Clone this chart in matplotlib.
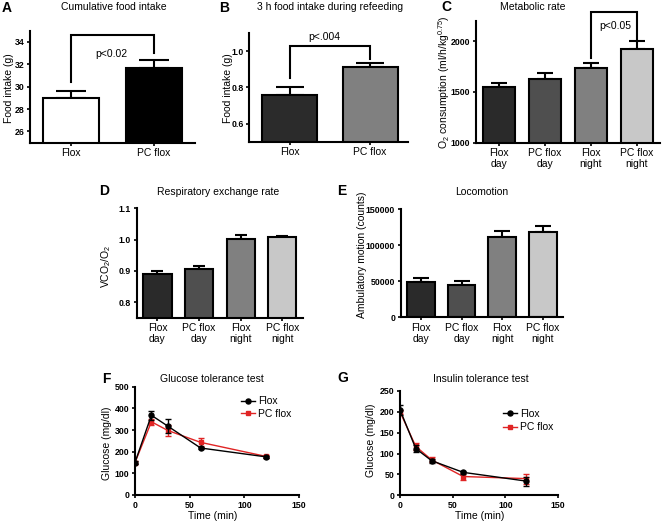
import matplotlib
matplotlib.use("Agg")
import matplotlib.pyplot as plt
import numpy as np

plt.rcParams['font.family'] = ['Liberation Sans', 'DejaVu Sans']
plt.rcParams['mathtext.fontset'] = 'custom'
plt.rcParams['mathtext.rm'] = 'Liberation Sans'
plt.rcParams['mathtext.it'] = 'Liberation Sans:italic'

# ---------------- data ----------------
a_cats = ["Flox", "PC flox"]
a_vals = [29.0, 31.7]
a_errs = [0.65, 0.7]

b_cats = ["Flox", "PC flox"]
b_vals = [0.758, 0.913]
b_errs = [0.045, 0.023]

cde_cats = ["Flox\nday", "PC flox\nday", "Flox\nnight", "PC flox\nnight"]
c_vals = [1548, 1626, 1733, 1925]
c_errs = [37, 64, 52, 75]
d_vals = [0.889, 0.906, 1.003, 1.007]
d_errs = [0.012, 0.008, 0.012, 0.004]
e_vals = [49500, 45500, 111000, 118000]
e_errs = [4500, 5000, 8500, 9000]

time_min = [0, 15, 30, 60, 120]
f_flox = [150, 368, 318, 217, 176]
f_flox_err = [8, 20, 33, 6, 5]
f_pc = [150, 338, 298, 243, 178]
f_pc_err = [8, 15, 25, 18, 6]

g_flox = [205, 112, 83, 55, 34]
g_flox_err = [12, 8, 5, 3, 11]
g_pc = [200, 117, 85, 45, 40]
g_pc_err = [5, 9, 6, 8, 12]

# ---------------- layout ----------------
W, H = 662, 523
fig = plt.figure(figsize=(W / 100, H / 100), dpi=100)

def add_ax(x0, y0, x1, y1):
    return fig.add_axes([x0 / W, 1 - y1 / H, (x1 - x0) / W, (y1 - y0) / H])

def ftext(x, y, s, **kw):
    fig.text(x / W, 1 - y / H, s, **kw)

LW = 1.5
TXT = 7.5
TICK = 6.3

def style(ax):
    for s in ['top', 'right']:
        ax.spines[s].set_visible(False)
    for s in ['left', 'bottom']:
        ax.spines[s].set_linewidth(LW)
    ax.tick_params(axis='both', direction='out', length=2.5, width=1.2, pad=1.5)
    ax.tick_params(axis='y', labelsize=TICK)
    for lab in ax.get_yticklabels():
        lab.set_fontweight('bold')

def bars(ax, vals, errs, colors, cats, capsize):
    x = np.arange(len(vals))
    ax.bar(x, vals, width=0.68, color=colors, edgecolor='black', linewidth=LW, zorder=2)
    ax.errorbar(x, vals, yerr=[np.zeros(len(errs)), errs], fmt='none', ecolor='black',
                elinewidth=LW, capsize=capsize, capthick=LW, zorder=1)
    ax.set_xlim(-0.5, len(vals) - 0.5)
    ax.set_xticks(x)
    ax.set_xticklabels(cats, fontsize=TXT, linespacing=1.1)
    ax.tick_params(axis='x', pad=3)

def bracket(ax, x0, x1, y0, y1, ytop):
    ax.plot([x0, x0, x1, x1], [y0, ytop, ytop, y1], color='black', lw=LW,
            clip_on=False, solid_joinstyle='miter', zorder=3)

# ---- A ----
axA = add_ax(30, 30.7, 195, 142.7)
bars(axA, a_vals, a_errs, ['white', 'black'], a_cats, 10.8)
axA.set_ylim(25, 35)
axA.set_yticks([26, 28, 30, 32, 34])
style(axA)
axA.set_xlim(-0.5, 1.5)
bracket(axA, 0, 1, 30.4, 33.05, 34.63)
ftext(111, 54, "p<0.02", fontsize=TXT, ha='center', va='center')
ftext(114, 7.5, "Cumulative food intake", fontsize=TXT, ha='center', va='center')
ftext(9, 88, "Food intake (g)", fontsize=TXT, rotation=90, ha='center', va='center')
ftext(7, 8, "A", fontsize=10, fontweight='bold', ha='center', va='center')

# ---- B ----
axB = add_ax(249.3, 33.3, 408, 141.7)
bars(axB, b_vals, b_errs, ['#2b2b2b', '#808080'], b_cats, 10)
axB.set_ylim(0.5, 1.1)
axB.set_yticks([0.6, 0.8, 1.0])
style(axB)
axB.set_xlim(-0.5, 1.47)
bracket(axB, 0, 1, 0.85, 0.96, 1.029)
ftext(324, 37.5, "p<.004", fontsize=TXT, ha='center', va='center')
ftext(330, 7.5, "3 h food intake during refeeding", fontsize=TXT, ha='center', va='center')
ftext(228, 88, "Food intake (g)", fontsize=TXT, rotation=90, ha='center', va='center')
ftext(224, 8, "B", fontsize=10, fontweight='bold', ha='center', va='center')

# ---- C ----
grays4 = ['#2a2a2a', '#4f4f4f', '#808080', '#c8c8c8']
axC = add_ax(476, 20.7, 660, 142.7)
bars(axC, c_vals, c_errs, grays4, cde_cats, 6)
axC.set_ylim(1000, 2200)
axC.set_yticks([1000, 1500, 2000])
style(axC)
bracket(axC, 2, 3, 1837, 2016, 2286)
ftext(615, 26, "p<0.05", fontsize=TXT, ha='center', va='center')
ftext(533, 7.5, "Metabolic rate", fontsize=TXT, ha='center', va='center')
ftext(444, 82, r"O$_2$ consumption (ml/h/kg$^{0.75}$)", fontsize=TXT, rotation=90,
      ha='center', va='center')
ftext(446, 7, "C", fontsize=10, fontweight='bold', ha='center', va='center')

# ---- D ----
axD = add_ax(136.7, 208.3, 303, 317.7)
bars(axD, d_vals, d_errs, grays4, cde_cats, 4.3)
axD.set_ylim(0.75, 1.1)
axD.set_yticks([0.8, 0.9, 1.0, 1.1])
style(axD)
ftext(218, 192, "Respiratory exchange rate", fontsize=TXT, ha='center', va='center')
ftext(106.5, 266, r"VCO$_2$/O$_2$", fontsize=TXT, rotation=90, ha='center', va='center')
ftext(104, 191, "D", fontsize=10, fontweight='bold', ha='center', va='center')

# ---- E ----
axE = add_ax(400.7, 209.3, 563, 317.3)
bars(axE, e_vals, e_errs, grays4, cde_cats, 6)
axE.set_ylim(0, 150000)
axE.set_yticks([0, 50000, 100000, 150000])
style(axE)
ftext(481.5, 191.7, "Locomotion", fontsize=TXT, ha='center', va='center')
ftext(362, 255, "Ambulatory motion (counts)", fontsize=TXT, rotation=90, ha='center', va='center')
ftext(342, 191, "E", fontsize=10, fontweight='bold', ha='center', va='center')

# ---- F / G ----
RED = '#e02424'

def lineplot(ax, fl, fle, pc, pce):
    ax.errorbar(time_min, fl, yerr=fle, color='black', fmt='none',
                capsize=2.5, capthick=1.0, elinewidth=1.0, zorder=3)
    ax.plot(time_min, fl, color='black', lw=1.0, marker='o', ms=3.6, label='Flox', zorder=3)
    ax.errorbar(time_min, pc, yerr=pce, color=RED, fmt='none',
                capsize=2.5, capthick=1.0, elinewidth=1.0, zorder=2)
    ax.plot(time_min, pc, color=RED, lw=1.0, marker='s', ms=3.4, label='PC flox', zorder=2)
    ax.set_xlim(0, 150)
    ax.set_xticks([0, 50, 100, 150])
    style(ax)
    ax.tick_params(axis='x', labelsize=TICK)
    for lab in ax.get_xticklabels():
        lab.set_fontweight('bold')

axF = add_ax(135, 386.7, 299, 495)
lineplot(axF, f_flox, f_flox_err, f_pc, f_pc_err)
axF.set_ylim(0, 500)
axF.set_yticks([0, 100, 200, 300, 400, 500])
for lab in axF.get_yticklabels():
    lab.set_fontweight('bold')
legF = axF.legend(loc='upper left', bbox_to_anchor=(236 / W, 1 - 391 / H),
                  bbox_transform=fig.transFigure, frameon=False, fontsize=TXT,
                  handlelength=1.3, handletextpad=0.3, borderpad=0, labelspacing=0.25)
ftext(212, 379, "Glucose tolerance test", fontsize=TXT, ha='center', va='center')
ftext(107, 443, "Glucose (mg/dl)", fontsize=TXT, rotation=90, ha='center', va='center')
ftext(213, 516, "Time (min)", fontsize=TXT, ha='center', va='center')
ftext(106, 379, "F", fontsize=10, fontweight='bold', ha='center', va='center')

axG = add_ax(400, 391, 558, 495.3)
lineplot(axG, g_flox, g_flox_err, g_pc, g_pc_err)
axG.set_ylim(0, 250)
axG.set_yticks([0, 50, 100, 150, 200, 250])
for lab in axG.get_yticklabels():
    lab.set_fontweight('bold')
legG = axG.legend(loc='upper left', bbox_to_anchor=(498 / W, 1 - 403.5 / H),
                  bbox_transform=fig.transFigure, frameon=False, fontsize=TXT,
                  handlelength=1.3, handletextpad=0.3, borderpad=0, labelspacing=0.35)
ftext(480.5, 379, "Insulin tolerance test", fontsize=TXT, ha='center', va='center')
ftext(371.5, 440, "Glucose (mg/dl)", fontsize=TXT, rotation=90, ha='center', va='center')
ftext(480, 516, "Time (min)", fontsize=TXT, ha='center', va='center')
ftext(343, 378, "G", fontsize=10, fontweight='bold', ha='center', va='center')

fig.savefig("out.png", dpi=100)
